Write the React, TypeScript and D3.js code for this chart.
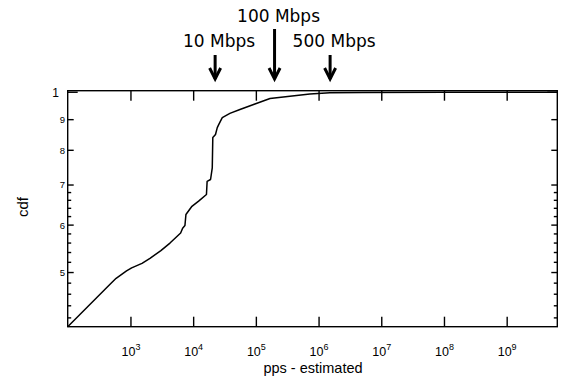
import React, { useEffect, useRef } from "react";
import * as d3 from "d3";

// estimated packet rate vs cumulative fraction
const PPS = [
  98, 464, 580, 850, 1026, 1500, 2010, 3000, 4190, 6200, 6670, 7260, 7530,
  9270, 12000, 16000, 16400, 18600, 19800, 20200, 22300, 23800, 25200, 28600,
  37800, 54700, 94900, 165000, 343000, 714000, 1490000, 5000000, 1e8, 6.3e9,
];
const CDF = [
  0.406, 0.478, 0.489, 0.503, 0.509, 0.518, 0.528, 0.544, 0.56, 0.582, 0.593,
  0.599, 0.625, 0.644, 0.658, 0.675, 0.71, 0.715, 0.748, 0.84, 0.85, 0.873,
  0.884, 0.907, 0.922, 0.936, 0.956, 0.976, 0.9847, 0.9935, 0.998, 0.9995, 1.0,
  1.0,
];

const X_TICKS = [1e3, 1e4, 1e5, 1e6, 1e7, 1e8, 1e9];
const X_EXPONENTS = ["3", "4", "5", "6", "7", "8", "9"];
const Y_MAJOR = [1, 0.9, 0.8, 0.7, 0.6, 0.5];
const Y_LABELS = ["1", "9", "8", "7", "6", "5"];
const Y_MINOR = [0.68, 0.66, 0.64, 0.62, 0.58, 0.56, 0.54, 0.52, 0.48, 0.46, 0.44, 0.42];

const ANNOT_LABELS = ["10 Mbps", "100 Mbps", "500 Mbps"];
const ANNOT_PPS = [2.2e4, 1.95e5, 1.5e6];

const WIDTH = 562;
const HEIGHT = 383;
const PLOT = { LEFT: 67.7, RIGHT: 557.3, TOP: 90.7, BOTTOM: 326.7 };
const AXIS_FONT = "Liberation Sans, Arial, Helvetica, sans-serif";
const ANNOT_FONT = "DejaVu Sans, Verdana, sans-serif";

const App = () => {
  const svgRef = useRef<SVGSVGElement>(null);

  useEffect(() => {
    const svg = d3.select(svgRef.current);
    svg.selectAll("*").remove();

    const xScale = d3.scaleLog().domain([98, 6.3e9]).range([PLOT.LEFT, PLOT.RIGHT]);
    const yScale = d3.scaleLog().domain([0.406, 1.006]).range([PLOT.BOTTOM, PLOT.TOP]);

    const line = d3
      .line<number>()
      .x((d) => xScale(d))
      .y((_, i) => yScale(CDF[i]));

    svg
      .append("path")
      .attr("d", line(PPS))
      .attr("fill", "none")
      .attr("stroke", "#000")
      .attr("stroke-width", 1.5)
      .attr("stroke-linejoin", "round");

    // frame
    svg
      .append("rect")
      .attr("x", PLOT.LEFT)
      .attr("y", PLOT.TOP)
      .attr("width", PLOT.RIGHT - PLOT.LEFT)
      .attr("height", PLOT.BOTTOM - PLOT.TOP)
      .attr("fill", "none")
      .attr("stroke", "#000")
      .attr("stroke-width", 1.4);

    // x ticks, bottom and top, pointing inward
    const xt = svg.append("g").attr("stroke", "#000").attr("stroke-width", 1.4);
    X_TICKS.forEach((t) => {
      const x = xScale(t);
      xt.append("line").attr("x1", x).attr("x2", x).attr("y1", PLOT.BOTTOM).attr("y2", PLOT.BOTTOM - 10);
      xt.append("line").attr("x1", x).attr("x2", x).attr("y1", PLOT.TOP).attr("y2", PLOT.TOP + 10);
    });

    const xl = svg
      .append("g")
      .attr("font-family", AXIS_FONT)
      .attr("font-size", 12.5)
      .attr("text-anchor", "middle");
    X_TICKS.forEach((t, i) => {
      const txt = xl.append("text").attr("x", xScale(t)).attr("y", 356);
      txt.append("tspan").text("10");
      txt.append("tspan").attr("font-size", 9).attr("dy", -6).text(X_EXPONENTS[i]);
    });

    // y ticks, left and right
    const yt = svg.append("g").attr("stroke", "#000").attr("stroke-width", 1.4);
    Y_MAJOR.forEach((t, i) => {
      const y = yScale(t);
      const len = i === 0 ? 10 : 6;
      yt.append("line").attr("x1", PLOT.LEFT).attr("x2", PLOT.LEFT + len).attr("y1", y).attr("y2", y);
      yt.append("line").attr("x1", PLOT.RIGHT).attr("x2", PLOT.RIGHT - len).attr("y1", y).attr("y2", y);
    });
    Y_MINOR.forEach((t) => {
      const y = yScale(t);
      yt.append("line").attr("x1", PLOT.LEFT).attr("x2", PLOT.LEFT + 3.5).attr("y1", y).attr("y2", y);
      yt.append("line").attr("x1", PLOT.RIGHT).attr("x2", PLOT.RIGHT - 3.5).attr("y1", y).attr("y2", y);
    });

    const yl = svg.append("g").attr("font-family", AXIS_FONT).attr("text-anchor", "end");
    Y_MAJOR.forEach((t, i) => {
      yl.append("text")
        .attr("x", i === 0 ? 59 : 65)
        .attr("y", yScale(t))
        .attr("dy", "0.36em")
        .attr("font-size", i === 0 ? 12 : 9.5)
        .text(Y_LABELS[i]);
    });

    // axis titles
    svg
      .append("text")
      .attr("x", 313)
      .attr("y", 373)
      .attr("text-anchor", "middle")
      .attr("font-family", AXIS_FONT)
      .attr("font-size", 14.5)
      .text("pps - estimated");
    svg
      .append("text")
      .attr("transform", "translate(28,207) rotate(-90)")
      .attr("text-anchor", "middle")
      .attr("font-family", AXIS_FONT)
      .attr("font-size", 15)
      .text("cdf");

    // link-rate annotations
    const ann = svg.append("g");
    ANNOT_PPS.forEach((p, i) => {
      const x = xScale(p);
      const tall = i === 1;
      ann
        .append("text")
        .attr("x", x + 4)
        .attr("y", tall ? 22 : 47)
        .attr("text-anchor", "middle")
        .attr("font-family", ANNOT_FONT)
        .attr("font-size", 17)
        .text(ANNOT_LABELS[i]);
      ann
        .append("line")
        .attr("x1", x)
        .attr("x2", x)
        .attr("y1", tall ? 29 : 55)
        .attr("y2", 79)
        .attr("stroke", "#000")
        .attr("stroke-width", 3);
      ann
        .append("polyline")
        .attr("points", `${x - 5.5},68 ${x},79 ${x + 5.5},68`)
        .attr("fill", "none")
        .attr("stroke", "#000")
        .attr("stroke-width", 3);
    });
  }, []);

  return (
    <svg
      ref={svgRef}
      width={WIDTH}
      height={HEIGHT}
      style={{ position: "absolute", left: 0, top: 0, background: "#fff" }}
    ></svg>
  );
};

export default App;
